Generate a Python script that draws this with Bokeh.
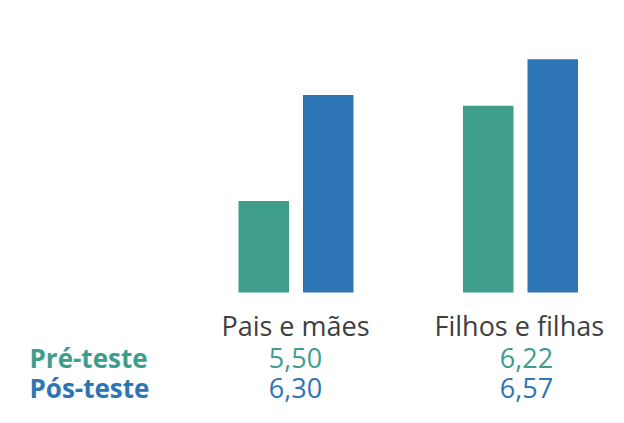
from bokeh.plotting import figure
from bokeh.models import ColumnDataSource, Range1d
from bokeh.core.properties import value
from bokeh.embed import file_html
from bokeh.resources import INLINE

# ---- data ----
categories = ["Pais e mães", "Filhos e filhas"]
series = ["Pré-teste", "Pós-teste"]
pre_values = [5.50, 6.22]
pos_values = [6.30, 6.57]

# ---- style / layout ----
W, H = 608, 407
TEAL = "#3E9E8B"
BLUE = "#2E75B6"
DARK = "#404040"
FONT = "Open Sans"
BASE = 4.81
PX_PER_UNIT = 132.5
Y1 = BASE + 292 / PX_PER_UNIT
Y0 = Y1 - H / PX_PER_UNIT


def y_at(px_from_top):
    return Y1 - px_from_top / PX_PER_UNIT


group_x = [295.5, 520]
offset = 32.25
bar_w = 50.5
text_x = [295, 526]

p = figure(width=W, height=H, output_backend="svg", toolbar_location=None,
           x_range=Range1d(0, W), y_range=Range1d(Y0, Y1),
           min_border=0, min_border_left=0, min_border_right=0,
           min_border_top=0, min_border_bottom=0)
p.axis.visible = False
p.grid.visible = False
p.outline_line_color = None
p.background_fill_color = "white"
p.border_fill_color = "white"

pre_src = ColumnDataSource(dict(x=[g - offset for g in group_x], top=pre_values))
pos_src = ColumnDataSource(dict(x=[g + offset for g in group_x], top=pos_values))
p.vbar(x="x", top="top", bottom=BASE, width=bar_w, source=pre_src,
       fill_color=TEAL, line_color=None)
p.vbar(x="x", top="top", bottom=BASE, width=bar_w, source=pos_src,
       fill_color=BLUE, line_color=None)

# category labels
cat_y = y_at(325)
p.text(x=[text_x[0]], y=[cat_y], text=[categories[0]], text_align="center",
       text_baseline="alphabetic", text_font=value(FONT), text_font_size="27px",
       text_color=DARK)
p.text(x=[434], y=[cat_y], text=[categories[1]], text_align="left",
       text_baseline="alphabetic", text_font=value(FONT), text_font_size="27px",
       text_color=DARK)

# row labels
row_y = [y_at(357), y_at(387)]
p.text(x=[29], y=[row_y[0]], text=[series[0]], text_align="left",
       text_baseline="alphabetic", text_font=value(FONT), text_font_size="26px",
       text_font_style="bold", text_color=TEAL)
p.text(x=[29], y=[row_y[1]], text=[series[1]], text_align="left",
       text_baseline="alphabetic", text_font=value(FONT), text_font_size="26px",
       text_font_style="bold", text_color=BLUE)

# value labels
fmt = lambda v: f"{v:.2f}".replace(".", ",")
p.text(x=text_x, y=[row_y[0]] * 2, text=[fmt(v) for v in pre_values],
       text_align="center", text_baseline="alphabetic", text_font=value(FONT),
       text_font_size="27px", text_color=TEAL)
p.text(x=text_x, y=[row_y[1]] * 2, text=[fmt(v) for v in pos_values],
       text_align="center", text_baseline="alphabetic", text_font=value(FONT),
       text_font_size="27px", text_color=BLUE)

open("out.html", "w").write(file_html(p, INLINE))
